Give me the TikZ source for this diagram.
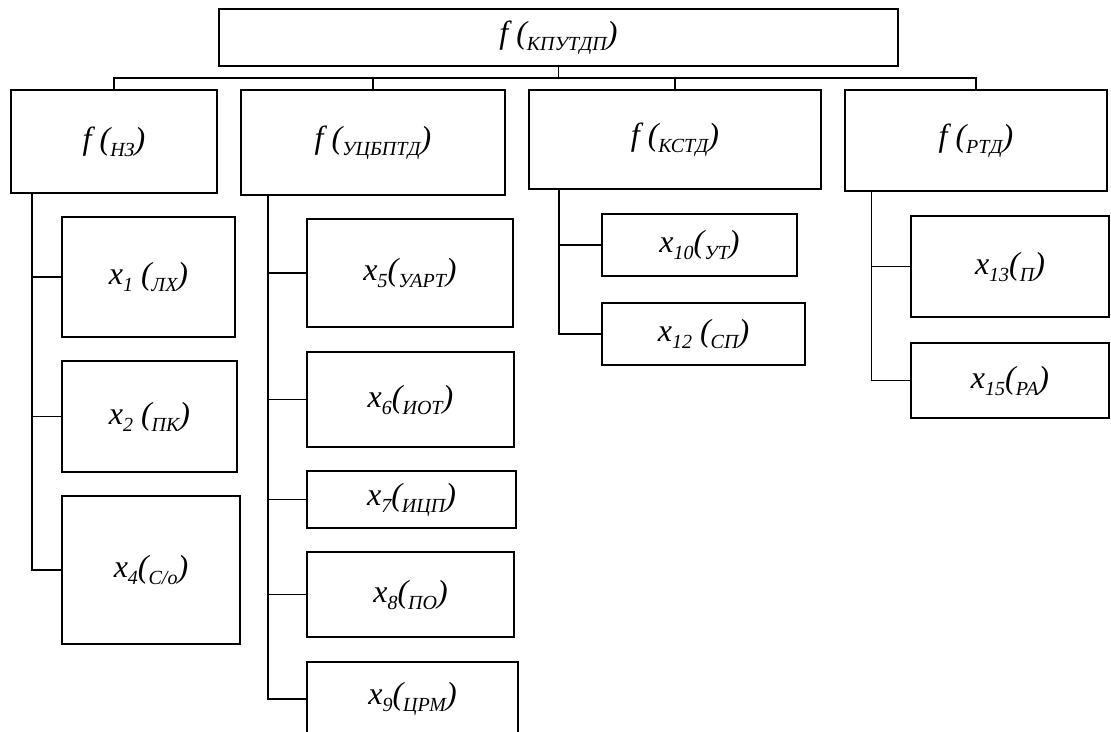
\documentclass[tikz,border=0pt]{standalone}
\usepackage{fontspec}
\setmainfont{Liberation Serif}
\newcommand{\lowsub}[1]{\raisebox{-7pt}{\fontsize{20}{20}\selectfont #1}}
\tikzset{
  box/.style={draw, line width=1.8pt, inner sep=0pt, outer sep=0pt, align=center,
    font=\fontsize{32}{36}\selectfont\itshape},
  wire/.style={line width=1.8pt}
}
\begin{document}
\begin{tikzpicture}[x=1pt,y=-1pt]
\useasboundingbox (0,0) rectangle (1111,731);
% top
\node[box, minimum width=679pt, minimum height=57pt] (top) at (558.5,37.5) {f (\lowsub{КПУТДП})};
% level 1
\node[box, minimum width=206pt, minimum height=103pt] (nz) at (114,141.5) {f (\lowsub{НЗ})};
\node[box, minimum width=264pt, minimum height=105pt] (uc) at (373,142.5) {f (\lowsub{УЦБПТД})};
\node[box, minimum width=292pt, minimum height=99pt] (ks) at (675,139.5) {f (\lowsub{КСТД})};
\node[box, minimum width=262pt, minimum height=101pt] (rt) at (976,140.5) {f (\lowsub{РТД})};
% children of nz
\node[box, minimum width=173pt, minimum height=120pt] (x1) at (148.5,277) {x\lowsub{1} (\lowsub{ЛХ})};
\node[box, minimum width=175pt, minimum height=111pt] (x2) at (149.5,416.5) {x\lowsub{2} (\lowsub{ПК})};
\node[box, minimum width=178pt, minimum height=148pt] (x4) at (151,570) {x\lowsub{4}(\lowsub{С/о})};
% children of uc
\node[box, minimum width=206pt, minimum height=108pt] (x5) at (410,273) {x\lowsub{5}(\lowsub{УАРТ})};
\node[box, minimum width=207pt, minimum height=95pt] (x6) at (410.5,399.5) {x\lowsub{6}(\lowsub{ИОТ})};
\node[box, minimum width=209pt, minimum height=57pt] (x7) at (411.5,499.5) {x\lowsub{7}(\lowsub{ИЦП})};
\node[box, minimum width=207pt, minimum height=85pt] (x8) at (410.5,594.5) {x\lowsub{8}(\lowsub{ПО})};
\node[box, minimum width=211pt, minimum height=74pt] (x9) at (412.5,699) {x\lowsub{9}(\lowsub{ЦРМ})};
% children of ks
\node[box, minimum width=195pt, minimum height=62pt] (x10) at (699.5,245) {x\lowsub{10}(\lowsub{УТ})};
\node[box, minimum width=203pt, minimum height=62pt] (x12) at (703.5,334) {x\lowsub{12} (\lowsub{СП})};
% children of rt
\node[box, minimum width=198pt, minimum height=101pt] (x13) at (1010,266.5) {x\lowsub{13}(\lowsub{П})};
\node[box, minimum width=198pt, minimum height=75pt] (x15) at (1010,380.5) {x\lowsub{15}(\lowsub{РА})};
% bus
\coordinate (busL) at (114,78);
\draw[wire] (nz.north) -- (nz.north |- busL) -- (rt.north |- busL) -- (rt.north);
\draw[wire] (top.south) -- (top.south |- busL);
\draw[wire] (uc.north) -- (uc.north |- busL);
\draw[wire] (ks.north) -- (ks.north |- busL);
% stems
\draw[wire] (nz.south west) ++(21,0) coordinate (nzs) -- (nzs |- x4.west) -- (x4.west);
\draw[wire] (nzs |- x1.west) -- (x1.west);
\draw[wire] (nzs |- x2.west) -- (x2.west);
\draw[wire] (uc.south west) ++(27,0) coordinate (ucs) -- (ucs |- x9.west) -- (x9.west);
\draw[wire] (ucs |- x5.west) -- (x5.west);
\draw[wire] (ucs |- x6.west) -- (x6.west);
\draw[wire] (ucs |- x7.west) -- (x7.west);
\draw[wire] (ucs |- x8.west) -- (x8.west);
\draw[wire] (ks.south west) ++(30,0) coordinate (kss) -- (kss |- x12.west) -- (x12.west);
\draw[wire] (kss |- x10.west) -- (x10.west);
\draw[wire] (rt.south west) ++(26.5,0) coordinate (rts) -- (rts |- x15.west) -- (x15.west);
\draw[wire] (rts |- x13.west) -- (x13.west);
\end{tikzpicture}
\end{document}
